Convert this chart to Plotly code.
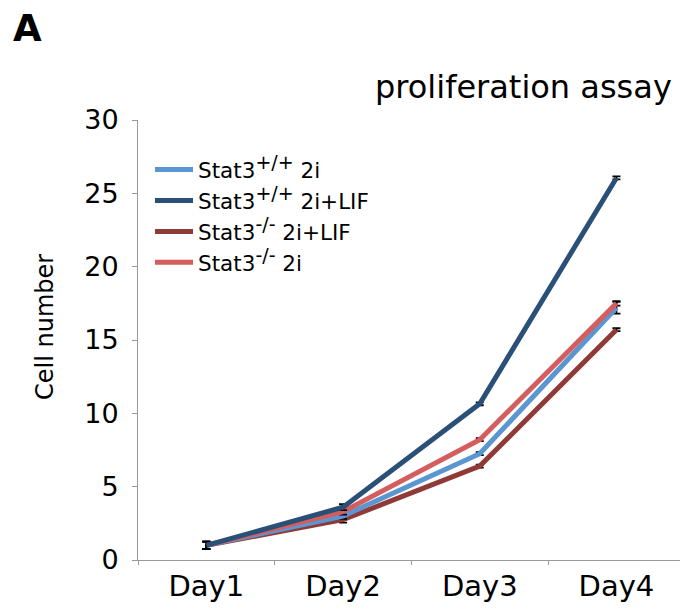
import plotly.graph_objects as go

days = ["Day1", "Day2", "Day3", "Day4"]

wt_2i = [1.0, 3.0, 7.25, 17.2]
wt_2i_err = [0.25, 0.2, 0.1, 0.4]
wt_lif = [1.0, 3.6, 10.65, 26.05]
wt_lif_err = [0.25, 0.2, 0.1, 0.1]
ko_lif = [1.0, 2.75, 6.4, 15.7]
ko_lif_err = [0.25, 0.2, 0.1, 0.1]
ko_2i = [1.0, 3.3, 8.2, 17.5]
ko_2i_err = [0.25, 0.2, 0.1, 0.15]

sup = '<sup><span style="font-size:19px">{}</span></sup>'
names = ["Stat3" + sup.format("+/+") + " 2i", "Stat3" + sup.format("+/+") + " 2i+LIF",
         "Stat3" + sup.format("-/-") + " 2i+LIF", "Stat3" + sup.format("-/-") + " 2i"]
colors = ["#5b96d0", "#2a5078", "#903a38", "#d45e5e"]
series = [(wt_2i, wt_2i_err), (wt_lif, wt_lif_err), (ko_lif, ko_lif_err), (ko_2i, ko_2i_err)]

fig = go.Figure()
draw_order = [2, 0, 3, 1]
for i in draw_order:
    vals, errs = series[i]
    fig.add_trace(go.Scatter(
        x=days, y=vals, name=names[i], mode="lines",
        line=dict(color=colors[i], width=5),
        error_y=dict(type="data", array=errs, visible=True, color="black",
                     thickness=1.8, width=4),
        legendrank=i + 1,
    ))

W = 680 - 138
H = 615 - 120 - 55

fig.update_layout(
    width=680, height=615,
    margin=dict(l=138, r=0, t=120, b=55),
    plot_bgcolor="white", paper_bgcolor="white",
    font=dict(family="DejaVu Sans", color="black"),
    showlegend=True,
    legend=dict(x=(150 - 138) / W, y=(560 - 149) / H, xanchor="left", yanchor="top",
                font=dict(size=21.5), bgcolor="rgba(0,0,0,0)",
                tracegroupgap=0, itemwidth=38),
    xaxis=dict(range=[-0.5, 3.465], showline=True, linecolor="#999999",
               linewidth=1, ticks="outside", tickson="boundaries", ticklen=4,
               tickcolor="#999999", tickfont=dict(size=29), showgrid=False,
               zeroline=False),
    yaxis=dict(range=[0, 30], dtick=5, showline=True, linecolor="#999999",
               linewidth=1, ticks="outside", ticklen=5, tickcolor="#999999",
               tickfont=dict(size=27), showgrid=False, zeroline=False,
               ticklabelstandoff=8),
    annotations=[
        dict(text="<b>A</b>", x=(11 - 138) / W, y=(560 - 28) / H, xref="paper", yref="paper",
             xanchor="left", yanchor="middle", showarrow=False, font=dict(size=37)),
        dict(text="proliferation assay", x=(674 - 138) / W, y=(560 - 87) / H,
             xref="paper", yref="paper", xanchor="right", yanchor="middle",
             showarrow=False, font=dict(size=32)),
        dict(text="Cell number", x=(45 - 138) / W, y=(560 - 327) / H,
             xref="paper", yref="paper", xanchor="center", yanchor="middle",
             showarrow=False, textangle=-90, font=dict(size=24)),
    ],
)

fig.write_html("out.html")
